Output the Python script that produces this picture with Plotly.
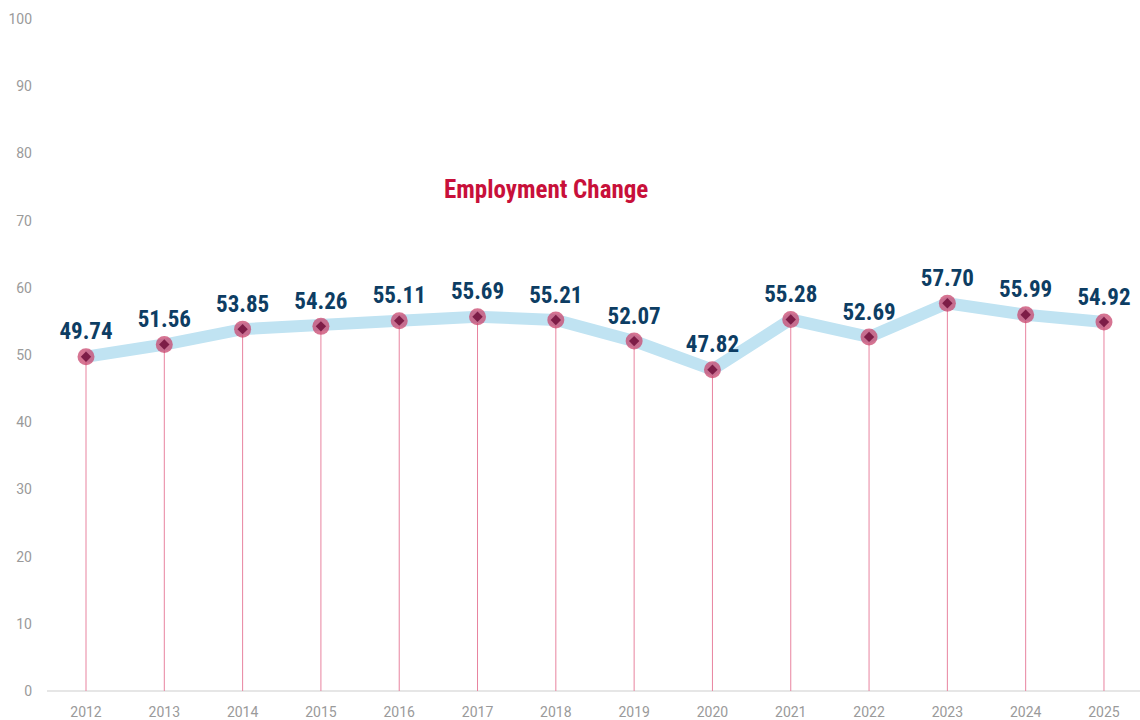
import plotly.graph_objects as go

years = ["2012", "2013", "2014", "2015", "2016", "2017", "2018",
         "2019", "2020", "2021", "2022", "2023", "2024", "2025"]
values = [49.74, 51.56, 53.85, 54.26, 55.11, 55.69, 55.21,
          52.07, 47.82, 55.28, 52.69, 57.70, 55.99, 54.92]
y_ticks = [0, 10, 20, 30, 40, 50, 60, 70, 80, 90, 100]
title_text = "Employment Change"

cond_font = "Roboto Condensed, Open Sans Condensed, sans-serif"
tick_font = dict(family="Roboto, sans-serif", size=14, color="#9a9a9a")

fig = go.Figure()

# vertical drop lines from each point to the baseline
stem_x, stem_y = [], []
for yr, v in zip(years, values):
    stem_x += [yr, yr, None]
    stem_y += [0, v, None]
fig.add_trace(go.Scatter(
    x=stem_x, y=stem_y, mode="lines",
    line=dict(color="#e8839f", width=1),
    hoverinfo="skip", showlegend=False,
))

# thick light-blue trend line
fig.add_trace(go.Scatter(
    x=years, y=values, mode="lines",
    line=dict(color="#c0e3f2", width=12),
    hoverinfo="skip", showlegend=False,
))

# halo markers with value labels
fig.add_trace(go.Scatter(
    x=years, y=values, mode="markers+text",
    marker=dict(symbol="circle", size=17, color="rgba(200,70,110,0.75)",
                line=dict(width=0)),
    text=[f"{v:.2f}" for v in values],
    textposition="top center",
    textfont=dict(family=cond_font, size=23, color="#0d3d63", weight="bold"),
    showlegend=False,
))

# inner diamonds
fig.add_trace(go.Scatter(
    x=years, y=values, mode="markers",
    marker=dict(symbol="diamond", size=8, color="#7d1d47"),
    hoverinfo="skip", showlegend=False,
))

fig.add_annotation(
    x=0.4563, xref="paper", y=74.6, yref="y", yanchor="middle",
    text=title_text, showarrow=False,
    font=dict(family=cond_font, size=25, color="#c8103a", weight="bold"),
)

fig.update_layout(
    width=1140, height=720,
    margin=dict(l=47, r=0, t=19, b=29),
    paper_bgcolor="white", plot_bgcolor="white",
    xaxis=dict(
        type="category", range=[-0.498, 13.46],
        showgrid=False, showline=False, zeroline=False,
        ticks="", tickfont=tick_font,
        ticklabelstandoff=11,
    ),
    yaxis=dict(
        range=[0, 100], tickvals=y_ticks,
        showgrid=False, showline=False,
        zeroline=True, zerolinecolor="#e6e6e6", zerolinewidth=2,
        ticks="", tickfont=tick_font,
        ticklabelstandoff=14,
    ),
)

fig.write_html("out.html")
